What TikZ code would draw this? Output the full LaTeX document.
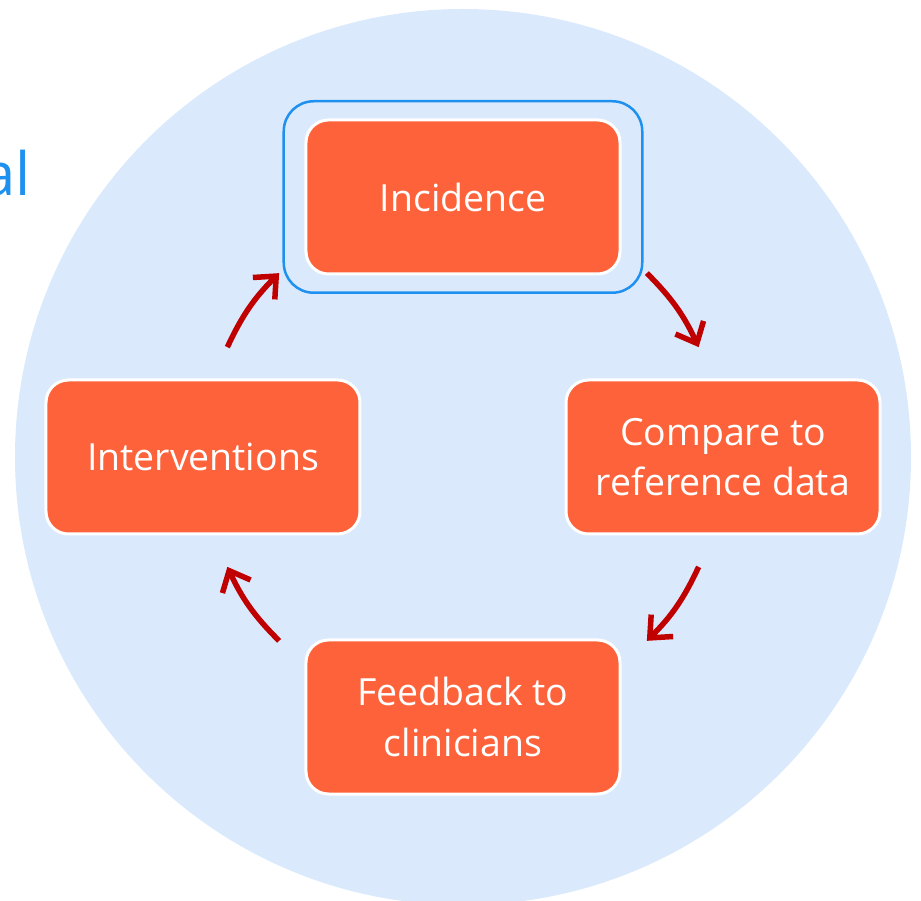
\documentclass[tikz,border=0pt]{standalone}
\usepackage{xcolor}
\usepackage{fontspec}
\setmainfont{Open Sans}
\usepackage{tikz}
\usetikzlibrary{positioning,calc,shapes,arrows.meta}
\definecolor{bgblue}{HTML}{DAEAFC}
\definecolor{boxorange}{HTML}{FD623A}
\definecolor{selblue}{HTML}{1E90F0}
\definecolor{arrred}{HTML}{C00000}
\tikzstyle{box}=[rectangle, rounded corners=0.45cm, draw=white, line width=0.06cm, fill=boxorange, text=white, minimum width=6.28cm, minimum height=3.08cm, align=center, font=\fontsize{21.3}{28.5}\selectfont]
\tikzstyle{selbox}=[rectangle, rounded corners=0.6cm, draw=selblue, line width=0.05cm, minimum width=7.17cm, minimum height=3.83cm]
\tikzstyle{cyc}=[draw=arrred, line width=0.11cm, -{Straight Barb[length=0.35cm,width=0.62cm]}]

\begin{document}
\begin{tikzpicture}
	\useasboundingbox (-9.26,-8.88) rectangle (9.16,9.14);
	\fill[bgblue] (0,0) circle (8.96);
	\node[text=selblue, anchor=base east, font=\fontsize{34}{40}\selectfont] (ttl) at (-8.52,5.22) {al};
	\node[selbox] (sel) at (0,5.2) {};
	\node[box] (inc) at (0,5.2) {Incidence};
	\node[box] (cmp) at (5.2,0) {Compare to\\reference data};
	\node[box] (fbk) at (0,-5.2) {Feedback to\\clinicians};
	\node[box] (itv) at (-5.2,0) {Interventions};
	\coordinate (a1) at (45:5.2);
	\coordinate (a2) at (25:5.2);
	\coordinate (a3) at (-25:5.2);
	\coordinate (a4) at (-45:5.2);
	\coordinate (a5) at (-135:5.2);
	\coordinate (a6) at (-155:5.2);
	\coordinate (a7) at (155:5.2);
	\coordinate (a8) at (135:5.2);
	\draw[cyc] (a1) to[bend left=10] (a2);
	\draw[cyc] (a3) to[bend left=10] (a4);
	\draw[cyc] (a5) to[bend left=10] (a6);
	\draw[cyc] (a7) to[bend left=10] (a8);
\end{tikzpicture}
\end{document}
